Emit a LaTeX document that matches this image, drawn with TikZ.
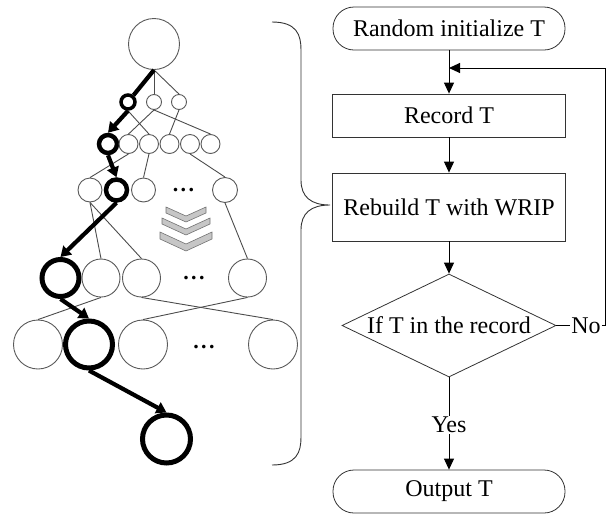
\documentclass[tikz,border=0pt]{standalone}
\usepackage{fontspec}
\setmainfont{Liberation Serif}
\usetikzlibrary{arrows.meta,shapes,positioning,calc}
\tikzset{
  tn/.style   = { draw=black!65, circle, line width=0.9pt, inner sep=0pt, minimum size=#1 },
  bn/.style   = { draw, circle, line width=4.5pt, inner sep=0pt, minimum size=#1 },
  tl/.style   = { draw=black!70, line width=0.9pt },
  bl/.style   = { line width=4.2pt },
  ba/.style   = { bl, -{Triangle[length=10pt,width=12pt]} },
  chev/.style = { fill=gray!45, draw=black!55, line width=0.6pt },
  dts/.style  = { font=\fontsize{22}{24}\selectfont\bfseries, anchor=base, inner sep=0pt },
  term/.style = { draw=black!80, line width=0.8pt, rounded corners=21pt, minimum width=232pt, minimum height=43pt, inner sep=0pt },
  proc/.style = { draw=black!80, line width=0.8pt, rectangle, minimum width=233pt, minimum height=#1, inner sep=0pt },
  cnd/.style  = { draw=black!80, line width=0.8pt, diamond, aspect=2.08, minimum width=214pt, minimum height=103pt, inner sep=0pt },
  flow/.style = { line width=1pt, -{Triangle[length=11pt,width=10pt]} }
}
\begin{document}
\begin{tikzpicture}[x=1pt,y=-1pt,on grid,font=\fontsize{24}{28}\selectfont]
    \useasboundingbox (0,0) rectangle (611,515);
    % search tree
    \node[tn=51pt] (r0) at (154,44) {};
    \node[bn=14pt, line width=3.5pt] (a0) at (128,102) {};
    \node[tn=15pt] (a1) at (154,102) {};
    \node[tn=15pt] (a2) at (179,102) {};
    \node[bn=18pt] (b0) at (108,144) {};
    \foreach \i/\x in {1/128.5,2/149,3/169.5,4/190,5/210.5}
      \node[tn=19pt] (b\i) at (\x,144) {};
    \node[tn=24pt] (c0) at (90,190) {};
    \node[bn=21pt] (c1) at (116.5,190) {};
    \node[tn=24pt] (c2) at (143.5,190) {};
    \node[tn=25pt] (c3) at (225,190) {};
    \node[bn=37pt, line width=5pt] (d0) at (60.5,278) {};
    \node[tn=38pt] (d1) at (101,278) {};
    \node[tn=38pt] (d2) at (141.5,278) {};
    \node[tn=38pt] (d3) at (247.5,278) {};
    \node[tn=49pt] (e0) at (38,344.5) {};
    \node[bn=47pt, line width=5pt] (e1) at (89,344.5) {};
    \node[tn=49pt] (e2) at (143,344.5) {};
    \node[tn=49pt] (e3) at (273,344.5) {};
    \node[bn=48pt, line width=5pt] (f0) at (166.5,439) {};

    \node[dts] (m3) at (183.5,191.5) {.\kern2.5pt.\kern2.5pt.};
    \node[dts] (m4) at (194,279.5) {.\kern2.5pt.\kern2.5pt.};
    \node[dts] (m5) at (204,348.5) {.\kern2.5pt.\kern2.5pt.};

    \foreach \y/\w/\h/\t in {207/20/9/6, 218/24/11/6, 232/26/12/7}
      \draw[chev] (186-\w,\y) -- (186,\y+\h) -- (186+\w,\y) -- (186+\w,\y+\t)
        -- (186,\y+\h+\t) -- (186-\w,\y+\t) -- cycle;

    \draw[tl] (r0.south) -- (a1.north);
    \draw[tl] (r0.south) -- (a2.north);
    \draw[tl] (a0.south) -- (b2.north);
    \draw[tl] (a1.south) -- (b1.north);
    \draw[tl] (a1.south) -- (b5.north);
    \draw[tl] (a2.south) -- (b3.north);
    \draw[tl] (b1.south) -- (c0.north);
    \draw[tl] (b2.south) -- (c2.north);
    \draw[tl] (b4.south) -- (c3.north);
    \draw[tl] (c0.south) -- (d1.north);
    \draw[tl] (c0.south) -- (d2.north);
    \draw[tl] (c3.south) -- (d3.north);
    \draw[tl] (d1.south) -- (e0.north);
    \draw[tl] (d2.south) -- (e3.north);
    \draw[tl] (d3.south) -- (e2.north);

    \draw[bl] (r0.south) -- (a0);
    \draw[ba] (a0.south) -- (b0.north);
    \draw[ba] (b0.south) -- (c1.north);
    \draw[ba] (c1.south) -- (d0.north);
    \draw[ba] (d0.south) -- (e1.north);
    \draw[ba] (e1.south) -- (f0.north);

    \draw[line width=0.9pt, black!80] (272,22) .. controls (297,22) and (301,35) .. (301,50)
      -- (301,180) .. controls (301,197) and (311,205) .. (330,205)
      .. controls (311,205) and (301,213) .. (301,230)
      -- (301,437) .. controls (301,452) and (297,465) .. (272,465);

    % flow chart
    \node[term] (init) at (449,28.5) {Random initialize T};
    \node[proc=43pt, below=87pt of init] (rec) {Record T};
    \node[proc=68pt, below=91.5pt of rec] (rbd) {Rebuild T with WRIP};
    \node[cnd, below=118.5pt of rbd] (cond) {If T in the record};
    \node[inner sep=1pt, below=99.5pt of cond] (yes) {Yes};
    \node[term, below=66.5pt of yes] (out) {Output T};
    \node[inner sep=1pt, right=137pt of cond] (no) {No};
    \coordinate (back) at (605,68);

    \draw[flow] (init) -- (rec);
    \draw[flow] (rec) -- (rbd);
    \draw[flow] (rbd) -- (cond);
    \draw[line width=1pt] (cond) -- (yes);
    \draw[flow] (yes) -- (out);
    \draw[line width=1pt] (cond) -- (no);
    \draw[flow] (no) -| (back) -- (back -| init);
  \end{tikzpicture}
\end{document}
